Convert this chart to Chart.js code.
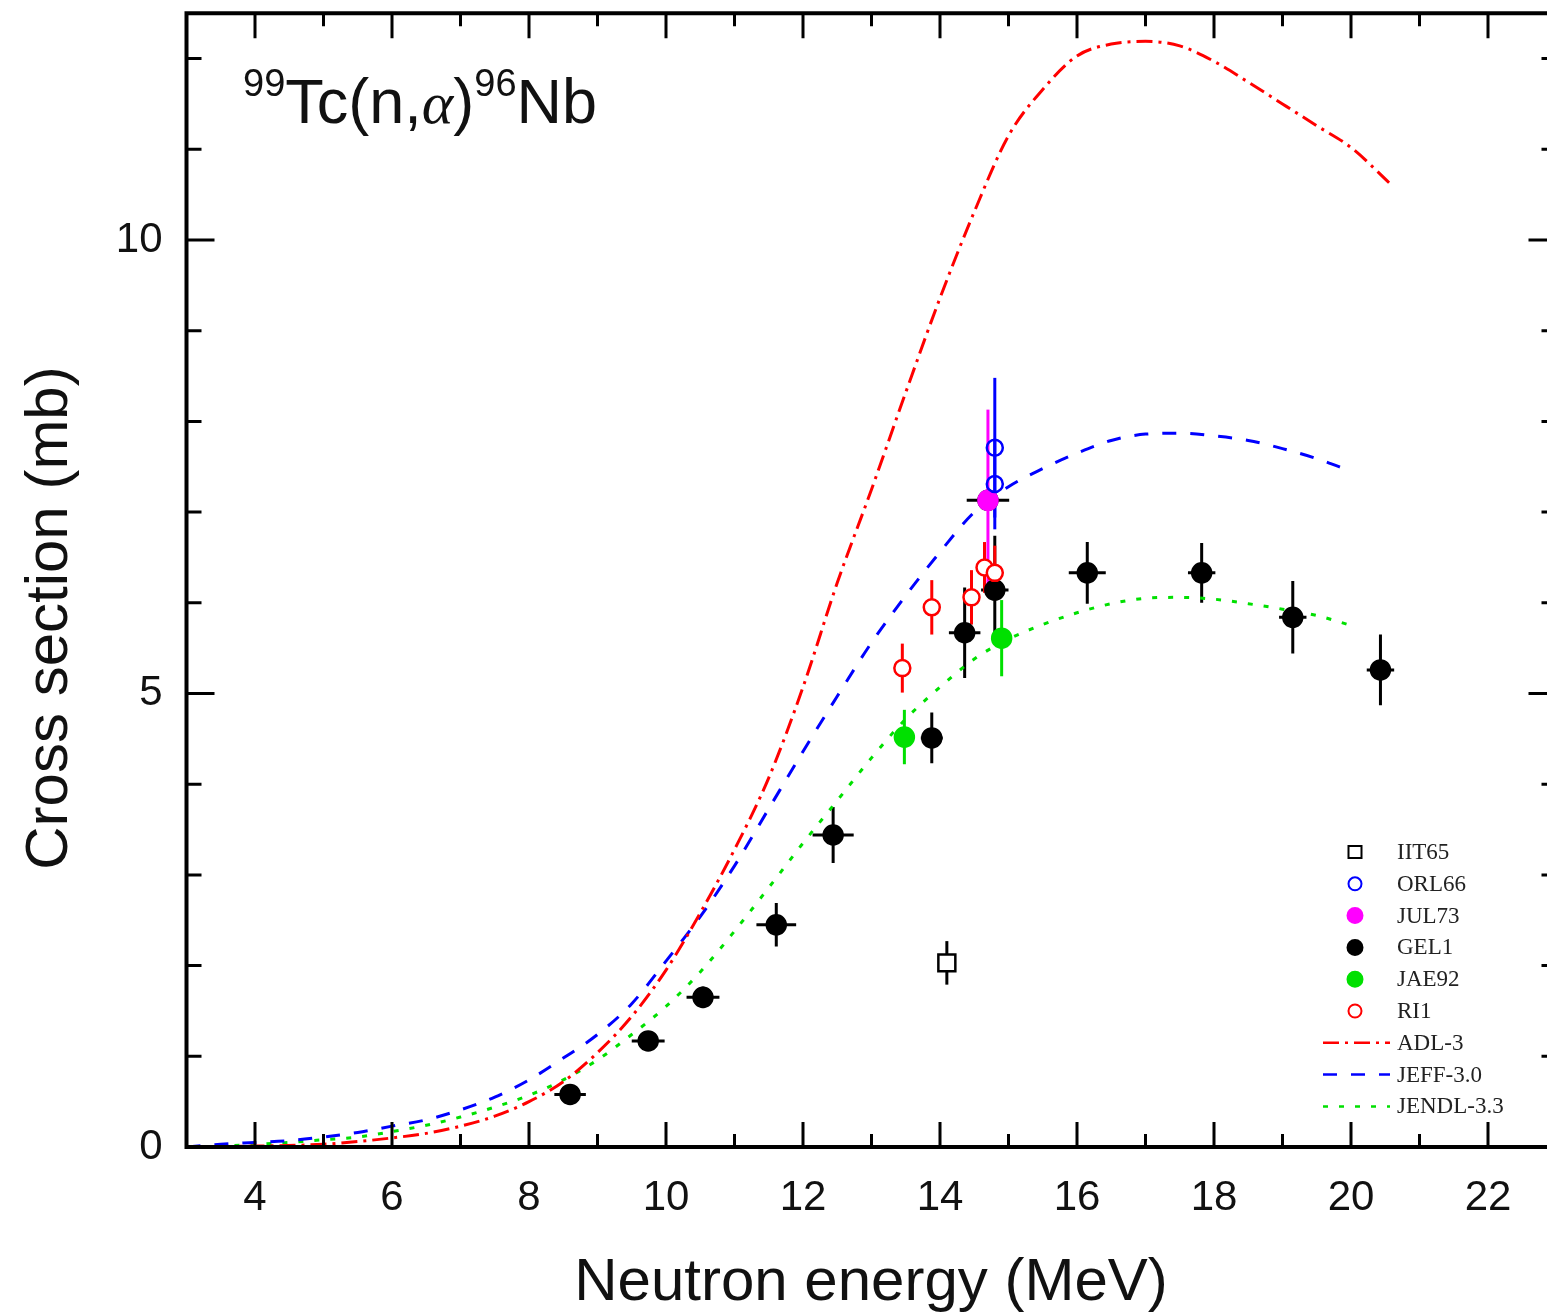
<!DOCTYPE html>
<html>
<head>
<meta charset="utf-8">
<title>99Tc(n,alpha)96Nb cross section</title>
<script src="https://cdn.jsdelivr.net/npm/chart.js@4.4.1/dist/chart.umd.min.js"></script>
<style>
  html, body { margin: 0; padding: 0; background: #fff; overflow: hidden; }
  /* the plot box runs a little past the right edge, as in the printed figure */
  #box { width: 1547px; height: 1313px; overflow: hidden; }
</style>
</head>
<body>
<div id="box"><canvas id="xs" width="1560" height="1313"></canvas></div>
<script>
"use strict";

// axis ticks
const xTickValues = [4, 6, 8, 10, 12, 14, 16, 18, 20, 22];
const xMinorValues = [3, 5, 7, 9, 11, 13, 15, 17, 19, 21, 23];
const yTickValues = [0, 5, 10];
const yMinorValues = [1, 2, 3, 4, 6, 7, 8, 9, 11, 12];

// evaluated curves (MeV, mb)
const adlEnergy = [3, 4, 5, 5.5, 6, 6.5, 7, 7.5, 8, 8.5, 9, 9.5, 10, 10.5, 11, 11.5, 12, 12.5, 13, 13.5, 14, 14.5, 15, 15.5, 16, 16.5, 17, 17.5, 18, 18.5, 19, 19.5, 20, 20.6];
const adlSigma = [0, 0.01, 0.03, 0.06, 0.10, 0.15, 0.23, 0.34, 0.50, 0.72, 1.04, 1.44, 1.95, 2.58, 3.28, 4.07, 5.07, 6.22, 7.25, 8.32, 9.36, 10.31, 11.15, 11.66, 12.03, 12.16, 12.19, 12.14, 11.97, 11.74, 11.50, 11.26, 11.02, 10.60];

const evalEnergy = [3, 3.5, 4, 4.5, 5, 5.5, 6, 6.5, 7, 7.5, 8, 8.5, 9, 9.5, 10, 10.5, 11, 11.5, 12, 12.5, 13, 13.5, 14, 14.5, 15, 15.5, 16, 16.5, 17, 17.5, 18, 18.5, 19, 19.5, 20];
const jeffSigma = [0, 0.03, 0.05, 0.07, 0.11, 0.16, 0.23, 0.30, 0.41, 0.55, 0.74, 0.98, 1.24, 1.58, 2.05, 2.54, 3.10, 3.73, 4.36, 4.97, 5.56, 6.08, 6.56, 7.00, 7.28, 7.48, 7.65, 7.79, 7.86, 7.87, 7.84, 7.79, 7.70, 7.59, 7.45];
const jendlSigma = [0, 0.01, 0.03, 0.05, 0.08, 0.11, 0.17, 0.24, 0.33, 0.44, 0.57, 0.74, 0.96, 1.24, 1.55, 1.93, 2.38, 2.86, 3.35, 3.82, 4.29, 4.72, 5.07, 5.38, 5.60, 5.76, 5.89, 5.99, 6.05, 6.06, 6.04, 5.99, 5.93, 5.86, 5.75];

// measurements: energy, cross section, uncertainties
const iit65E = [14.1];
const iit65S = [2.03];
const iit65dE = [0];
const iit65dS = [0.24];

const orl66E = [14.8, 14.8];
const orl66S = [7.71, 7.31];
const orl66dE = [0, 0];
const orl66dS = [0.77, 0.5];

const jul73E = [14.7];
const jul73S = [7.13];
const jul73dE = [0];
const jul73dS = [1.0];

const gel1E = [8.6, 9.74, 10.54, 11.61, 12.44, 13.88, 14.36, 14.7, 14.8, 16.15, 17.82, 19.15, 20.43];
const gel1S = [0.58, 1.17, 1.65, 2.45, 3.44, 4.51, 5.67, 7.13, 6.14, 6.33, 6.33, 5.84, 5.26];
const gel1dE = [0.23, 0.24, 0.24, 0.29, 0.3, 0.16, 0.23, 0.31, 0.2, 0.27, 0.2, 0.2, 0.2];
const gel1dS = [0.06, 0.08, 0.12, 0.24, 0.31, 0.28, 0.5, 0, 0.6, 0.34, 0.33, 0.4, 0.39];

const jae92E = [13.48, 14.9];
const jae92S = [4.52, 5.61];
const jae92dE = [0, 0];
const jae92dS = [0.3, 0.42];

const ri1E = [13.45, 13.88, 14.46, 14.65, 14.8];
const ri1S = [5.28, 5.95, 6.06, 6.39, 6.33];
const ri1dE = [0, 0, 0, 0, 0];
const ri1dS = [0.27, 0.3, 0.3, 0.28, 0.3];

const SANS = '"Liberation Sans", Arial, sans-serif';
const SERIF = '"Liberation Serif", "Times New Roman", serif';
const GREEN = "#00e000";

function pts(xs, ys) {
  return xs.map((v, i) => ({ x: v, y: ys[i] }));
}
function errs(dx, dy) {
  return dx.map((v, i) => ({ dx: v, dy: dy[i] }));
}

function markers(label, xs, ys, dx, dy, opts) {
  return Object.assign({
    type: "scatter",
    label: label,
    data: pts(xs, ys),
    errors: errs(dx, dy),
    showLine: false,
    pointStyle: "circle",
    pointRadius: 9.5,
    borderWidth: 2.5,
  }, opts);
}

function curve(label, xs, ys, color, dash) {
  return {
    type: "line",
    label: label,
    data: pts(xs, ys),
    borderColor: color,
    backgroundColor: color,
    borderWidth: 3,
    borderDash: dash,
    pointRadius: 0,
    fill: false,
    cubicInterpolationMode: "monotone",
    order: 10,
  };
}

const datasets = [
  markers("IIT65", iit65E, iit65S, iit65dE, iit65dS,
    { pointStyle: "rect", pointRadius: 12, borderColor: "#000", backgroundColor: "#fff", errColor: "#000", order: 3 }),
  markers("ORL66", orl66E, orl66S, orl66dE, orl66dS,
    { pointRadius: 8, borderColor: "#0000ff", backgroundColor: "rgba(255,255,255,0)", errColor: "#0000ff", order: 1 }),
  markers("JUL73", jul73E, jul73S, jul73dE, jul73dS,
    { borderColor: "#ff00ff", backgroundColor: "#ff00ff", errColor: "#ff00ff", order: 2 }),
  markers("GEL1", gel1E, gel1S, gel1dE, gel1dS,
    { borderColor: "#000", backgroundColor: "#000", errColor: "#000", order: 4 }),
  markers("JAE92", jae92E, jae92S, jae92dE, jae92dS,
    { borderColor: GREEN, backgroundColor: GREEN, errColor: GREEN, order: 3 }),
  markers("RI1", ri1E, ri1S, ri1dE, ri1dS,
    { pointRadius: 8, borderColor: "#ff0000", backgroundColor: "#fff", errColor: "#ff0000", order: 1 }),
  curve("ADL-3", adlEnergy, adlSigma, "#ff0000", [16, 6, 3, 6]),
  curve("JEFF-3.0", evalEnergy, jeffSigma, "#0000ff", [14, 14]),
  curve("JENDL-3.3", evalEnergy, jendlSigma, GREEN, [5, 11]),
];

// error bars go under the markers
const errorBars = {
  id: "errorBars",
  beforeDatasetsDraw(chart) {
    const { ctx, scales: { x, y } } = chart;
    ctx.save();
    ctx.lineWidth = 3;
    chart.data.datasets.forEach((ds) => {
      if (!ds.errors) return;
      ctx.strokeStyle = ds.errColor;
      ds.data.forEach((p, j) => {
        const e = ds.errors[j];
        const px = x.getPixelForValue(p.x);
        const py = y.getPixelForValue(p.y);
        ctx.beginPath();
        if (e.dy) {
          ctx.moveTo(px, y.getPixelForValue(p.y - e.dy));
          ctx.lineTo(px, y.getPixelForValue(p.y + e.dy));
        }
        if (e.dx) {
          ctx.moveTo(x.getPixelForValue(p.x - e.dx), py);
          ctx.lineTo(x.getPixelForValue(p.x + e.dx), py);
        }
        ctx.stroke();
      });
    });
    ctx.restore();
  },
};

// box frame with inward ticks, axis titles, reaction label and legend
const decorations = {
  id: "decorations",
  afterDraw(chart) {
    const { ctx, chartArea: a, scales: { x, y } } = chart;
    ctx.save();

    ctx.strokeStyle = "#000";
    ctx.lineWidth = 3;
    ctx.beginPath();
    xTickValues.forEach((v) => {
      const px = x.getPixelForValue(v);
      ctx.moveTo(px, a.bottom); ctx.lineTo(px, a.bottom - 25);
      ctx.moveTo(px, a.top); ctx.lineTo(px, a.top + 25);
    });
    xMinorValues.forEach((v) => {
      const px = x.getPixelForValue(v);
      ctx.moveTo(px, a.bottom); ctx.lineTo(px, a.bottom - 13);
      ctx.moveTo(px, a.top); ctx.lineTo(px, a.top + 13);
    });
    yTickValues.forEach((v) => {
      const py = y.getPixelForValue(v);
      ctx.moveTo(a.left, py); ctx.lineTo(a.left + 28, py);
      ctx.moveTo(a.right, py); ctx.lineTo(a.right - 28, py);
    });
    yMinorValues.forEach((v) => {
      const py = y.getPixelForValue(v);
      ctx.moveTo(a.left, py); ctx.lineTo(a.left + 15, py);
      ctx.moveTo(a.right, py); ctx.lineTo(a.right - 15, py);
    });
    ctx.stroke();

    ctx.lineWidth = 4;
    ctx.strokeRect(a.left, a.top, a.right - a.left, a.bottom - a.top);

    // axis titles
    ctx.fillStyle = "#111";
    ctx.font = "60px " + SANS;
    ctx.textAlign = "center";
    ctx.textBaseline = "alphabetic";
    ctx.fillText("Neutron energy (MeV)", 871, 1300);

    ctx.save();
    ctx.translate(67, 618);
    ctx.rotate(-Math.PI / 2);
    ctx.fillText("Cross section (mb)", 0, 0);
    ctx.restore();

    // reaction label
    ctx.textAlign = "left";
    let cx = 243;
    const put = (txt, font, base) => {
      ctx.font = font;
      ctx.fillText(txt, cx, base);
      cx += ctx.measureText(txt).width;
    };
    put("99", "38px " + SANS, 96);
    put("Tc(n,", "63px " + SANS, 123);
    put("\u03b1", "italic 60px " + SERIF, 123);
    put(")", "63px " + SANS, 123);
    put("96", "38px " + SANS, 96);
    put("Nb", "63px " + SANS, 123);

    // legend
    const lx = 1355, ly = 852, step = 31.8;
    ctx.font = "23px " + SERIF;
    ctx.textBaseline = "middle";
    chart.data.datasets.forEach((ds, i) => {
      const cy = ly + i * step;
      ctx.save();
      if (ds.type === "line") {
        ctx.strokeStyle = ds.borderColor;
        ctx.lineWidth = 2.5;
        ctx.setLineDash(ds.borderDash);
        ctx.beginPath();
        ctx.moveTo(1323, cy);
        ctx.lineTo(1390, cy);
        ctx.stroke();
      } else {
        ctx.lineWidth = 2;
        ctx.strokeStyle = ds.borderColor;
        ctx.fillStyle = ds.backgroundColor === "rgba(255,255,255,0)" ? "#fff" : ds.backgroundColor;
        ctx.beginPath();
        if (ds.pointStyle === "rect") {
          ctx.rect(lx - 6.5, cy - 6, 13, 12);
        } else {
          ctx.arc(lx, cy, ds.pointRadius > 8.5 ? 7.5 : 6.5, 0, Math.PI * 2);
        }
        ctx.fill();
        ctx.stroke();
      }
      ctx.restore();
      ctx.fillStyle = "#222";
      ctx.fillText(ds.label, 1397, cy + 1);
    });

    ctx.restore();
  },
};

new Chart(document.getElementById("xs"), {
  data: { datasets: datasets },
  plugins: [errorBars, decorations],
  options: {
    responsive: false,
    animation: false,
    devicePixelRatio: 1,
    layout: { autoPadding: false, padding: { top: 13.25, right: 3.5, left: 0, bottom: 0 } },
    plugins: {
      legend: { display: false },
      tooltip: { enabled: false },
    },
    scales: {
      x: {
        type: "linear",
        min: 3,
        max: 23,
        grid: { display: false, drawTicks: false },
        border: { display: false },
        afterBuildTicks: (s) => { s.ticks = xTickValues.map((v) => ({ value: v })); },
        // fixed box; end labels sit well inside, so no extra side room
        afterFit: (s) => { s.height = 166; s.paddingLeft = 0; s.paddingRight = 0; },
        ticks: {
          font: { family: SANS, size: 42 },
          color: "#111",
          padding: 26,
          maxRotation: 0,
        },
      },
      y: {
        type: "linear",
        min: 0,
        max: 12.5,
        grid: { display: false, drawTicks: false },
        border: { display: false },
        afterBuildTicks: (s) => { s.ticks = yTickValues.map((v) => ({ value: v })); },
        afterFit: (s) => { s.width = 186.5; s.paddingTop = 0; s.paddingBottom = 0; },
        ticks: {
          font: { family: SANS, size: 42 },
          color: "#111",
          padding: 24,
        },
      },
    },
  },
});
</script>
</body>
</html>
